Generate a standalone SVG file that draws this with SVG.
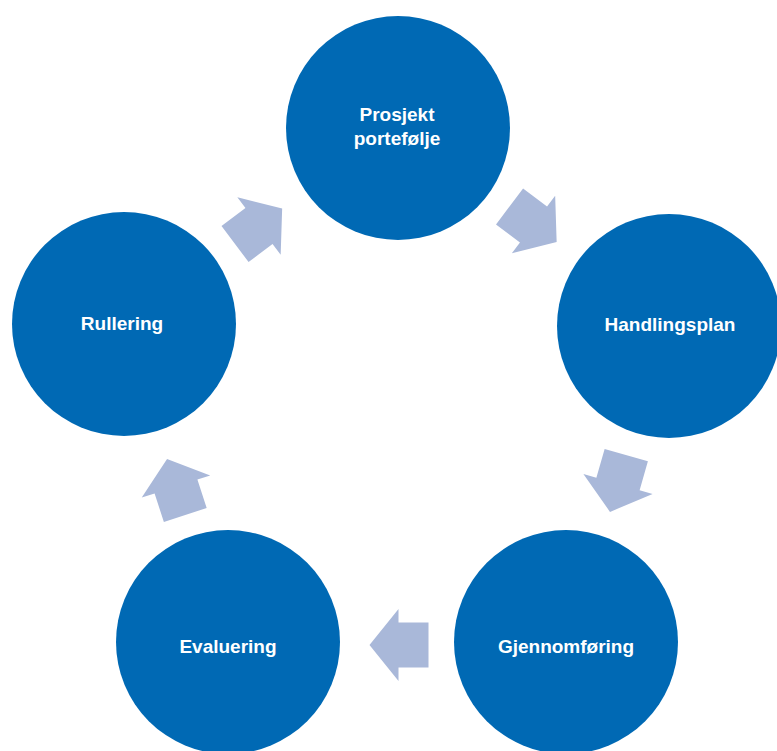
<svg xmlns="http://www.w3.org/2000/svg" width="777" height="751" viewBox="0 0 777 751">
<defs>
<style>
.node{fill:#0069B4;}
.lbl{font-family:"Liberation Sans",Arial,sans-serif;font-weight:bold;font-size:19px;fill:#FFFFFF;text-anchor:middle;}
.arr{fill:#A9B8D9;}
</style>
<polygon id="arrow" points="-30,-22.5 0,-22.5 0,-36 29,0 0,36 0,22.5 -30,22.5"/>
</defs>
<rect width="777" height="751" fill="#FFFFFF"/>
<g id="connectors" class="arr">
<use href="#arrow" transform="translate(533.5,224.5) rotate(37)"/>
<use href="#arrow" transform="translate(618,484) rotate(106)"/>
<use href="#arrow" transform="translate(398.5,645) rotate(180)"/>
<use href="#arrow" transform="translate(176,486.5) rotate(-108)"/>
<use href="#arrow" transform="translate(259,226) rotate(-37)"/>
</g>
<g id="node-prosjektportefolje">
<circle class="node" cx="398" cy="128" r="112"/>
<text class="lbl" x="397" y="121">Prosjekt</text>
<text class="lbl" x="397" y="145">portefølje</text>
</g>
<g id="node-handlingsplan">
<circle class="node" cx="669" cy="326" r="112"/>
<text class="lbl" x="670" y="331">Handlingsplan</text>
</g>
<g id="node-gjennomforing">
<circle class="node" cx="566" cy="642" r="112"/>
<text class="lbl" x="566" y="653">Gjennomføring</text>
</g>
<g id="node-evaluering">
<circle class="node" cx="228" cy="642" r="112"/>
<text class="lbl" x="228" y="653">Evaluering</text>
</g>
<g id="node-rullering">
<circle class="node" cx="124" cy="324" r="112"/>
<text class="lbl" x="122" y="330">Rullering</text>
</g>
</svg>
